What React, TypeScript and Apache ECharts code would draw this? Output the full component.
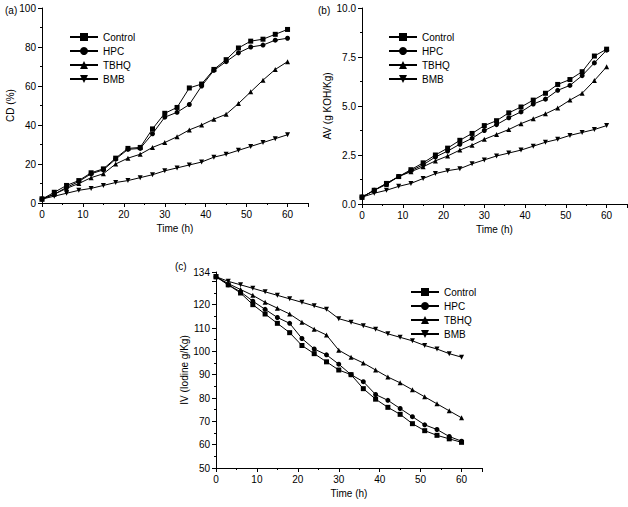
import { useEffect, useRef } from "react";
import * as echarts from "echarts";

const time = [0, 3, 6, 9, 12, 15, 18, 21, 24, 27, 30, 33, 36, 39, 42, 45, 48, 51, 54, 57, 60];
const names = ["Control", "HPC", "TBHQ", "BMB"];

const cdControl = [2, 5.5, 9, 11.5, 15.5, 17.5, 23, 28, 28.5, 38, 46, 49, 59, 61, 68.5, 73.5, 79.5, 83, 84, 86.5, 89];
const cdHPC = [2, 4.5, 8, 11, 15, 17, 22.5, 27.5, 28, 35.5, 44, 46.5, 50.5, 60, 68, 72.5, 77, 80, 81, 83.5, 84.5];
const cdTBHQ = [2, 4.5, 7.5, 10, 13, 15, 20, 23, 25, 28.5, 31, 34, 37.5, 40, 43, 45.5, 51, 57, 63, 68.5, 72.5];
const cdBMB = [2, 3.5, 5, 6.5, 7.5, 9, 10.5, 11.5, 13, 14.5, 16.5, 18, 19.5, 21, 23.5, 25, 27, 29, 31, 33, 35];

const avControl = [0.35, 0.7, 1.05, 1.4, 1.75, 2.1, 2.5, 2.85, 3.25, 3.6, 4.0, 4.25, 4.65, 4.95, 5.3, 5.65, 6.1, 6.35, 6.75, 7.55, 7.9];
const avHPC = [0.35, 0.7, 1.05, 1.4, 1.7, 2.0, 2.4, 2.7, 3.05, 3.35, 3.75, 4.05, 4.4, 4.7, 5.1, 5.35, 5.8, 6.05, 6.55, 7.2, 7.85];
const avTBHQ = [0.35, 0.7, 1.0, 1.4, 1.65, 1.9, 2.2, 2.45, 2.75, 3.0, 3.3, 3.55, 3.8, 4.1, 4.35, 4.6, 4.9, 5.3, 5.65, 6.3, 7.0];
const avBMB = [0.35, 0.55, 0.7, 0.9, 1.05, 1.3, 1.55, 1.7, 1.8, 2.05, 2.25, 2.45, 2.6, 2.75, 2.95, 3.15, 3.3, 3.5, 3.65, 3.8, 4.0];

const ivControl = [132, 128.5, 125, 120, 116, 112, 108, 102.5, 99, 95.5, 92, 90, 84, 79.5, 76, 73, 69, 66, 64, 62.5, 61];
const ivHPC = [132, 128.5, 125.5, 121.5, 118, 114.5, 112, 105.5, 101, 98.5, 94.5, 90, 87, 81.5, 79, 75.5, 72, 68.5, 66.5, 63.5, 61.5];
const ivTBHQ = [132, 129, 126.5, 124, 121, 118.5, 116, 112.5, 109.5, 107, 100.5, 97.5, 95, 92, 89, 86.5, 83.5, 80.5, 77.5, 74.5, 71.5];
const ivBMB = [132, 130, 128.5, 127, 125.5, 124, 122.5, 121, 119.5, 118, 114, 112.5, 111, 109.5, 107.5, 106, 104.5, 102.5, 101, 99, 97.5];

const symbols = ["rect", "circle", "triangle", "path://M0,0L10,0L5,9Z"];
const font = "Liberation Sans";

const App = () => {
	const chartRef = useRef<HTMLDivElement>(null);

	useEffect(() => {
		if (!chartRef.current) return;
		const chart = echarts.init(chartRef.current, undefined, { renderer: "svg" });

		const axisCommon = {
			axisLine: { show: true, lineStyle: { color: "#000", width: 1 } },
			axisTick: { show: true, inside: false, length: 4, lineStyle: { color: "#000" } },
			minorTick: { show: true, splitNumber: 2, length: 2, lineStyle: { color: "#000" } },
			axisLabel: { color: "#000", fontSize: 10, fontFamily: font, margin: 6, showMaxLabel: false },
			splitLine: { show: false },
			nameTextStyle: { color: "#000", fontSize: 10, fontFamily: font },
		};

		const xAxis = [0, 1, 2].map(i => ({
			...axisCommon,
			type: "value",
			gridIndex: i,
			min: 0,
			max: 65,
			interval: 10,
			name: "Time (h)",
			nameLocation: "middle",
			nameGap: 20,
		}));

		const yLabel = { ...axisCommon.axisLabel, showMaxLabel: true };
		const yAxis = [
			{ ...axisCommon, axisLabel: yLabel, type: "value", gridIndex: 0, min: 0, max: 100, interval: 20, name: "CD (%)", nameLocation: "middle", nameGap: 24 },
			{ ...axisCommon, type: "value", gridIndex: 1, min: 0, max: 10, interval: 2.5, name: "AV (g KOH/Kg)", nameLocation: "middle", nameGap: 28,
				axisLabel: { ...yLabel, formatter: (v: number) => v.toFixed(1) } },
			{ ...axisCommon, axisLabel: yLabel, type: "value", gridIndex: 2, min: 50, max: 134, interval: 10, name: "IV (Iodine g/Kg)", nameLocation: "middle", nameGap: 26 },
		];

		const sets = [
			[cdControl, cdHPC, cdTBHQ, cdBMB],
			[avControl, avHPC, avTBHQ, avBMB],
			[ivControl, ivHPC, ivTBHQ, ivBMB],
		];

		const series: any[] = [];
		sets.forEach((group, gi) => {
			group.forEach((vals, si) => {
				series.push({
					name: names[si],
					type: "line",
					xAxisIndex: gi,
					yAxisIndex: gi,
					data: vals.map((v, k) => [time[k], v]),
					symbol: symbols[si],
					symbolSize: 5,
					lineStyle: { color: "#000", width: 1 },
					itemStyle: { color: "#000" },
				});
			});
		});

		const legendCommon = {
			orient: "vertical",
			itemWidth: 28,
			itemHeight: 10,
			itemGap: 4,
			selectedMode: false,
			textStyle: { color: "#000", fontSize: 10, fontFamily: font },
			data: names,
		};

		chart.setOption({
			animation: false,
			backgroundColor: "#fff",
			textStyle: { fontFamily: font },
			title: [
				{ text: "(a)", left: 0, top: 0, textStyle: { fontSize: 10, fontWeight: "normal", color: "#000", fontFamily: font } },
				{ text: "(b)", left: 313, top: 0, textStyle: { fontSize: 10, fontWeight: "normal", color: "#000", fontFamily: font } },
				{ text: "(c)", left: 170, top: 256, textStyle: { fontSize: 10, fontWeight: "normal", color: "#000", fontFamily: font } },
			],
			grid: [
				{ left: 42, top: 8, width: 266, height: 195 },
				{ left: 362, top: 8, width: 265, height: 196 },
				{ left: 216, top: 272, width: 266, height: 196 },
			],
			legend: [
				{ ...legendCommon, left: 64, top: 27 },
				{ ...legendCommon, left: 383, top: 27 },
				{ ...legendCommon, left: 405, top: 282 },
			],
			xAxis,
			yAxis,
			series,
		});

		return () => chart.dispose();
	}, []);

	return <div ref={chartRef} style={{ position: "fixed", left: 0, top: 0, width: 628, height: 507 }} />;
};

export default App;
